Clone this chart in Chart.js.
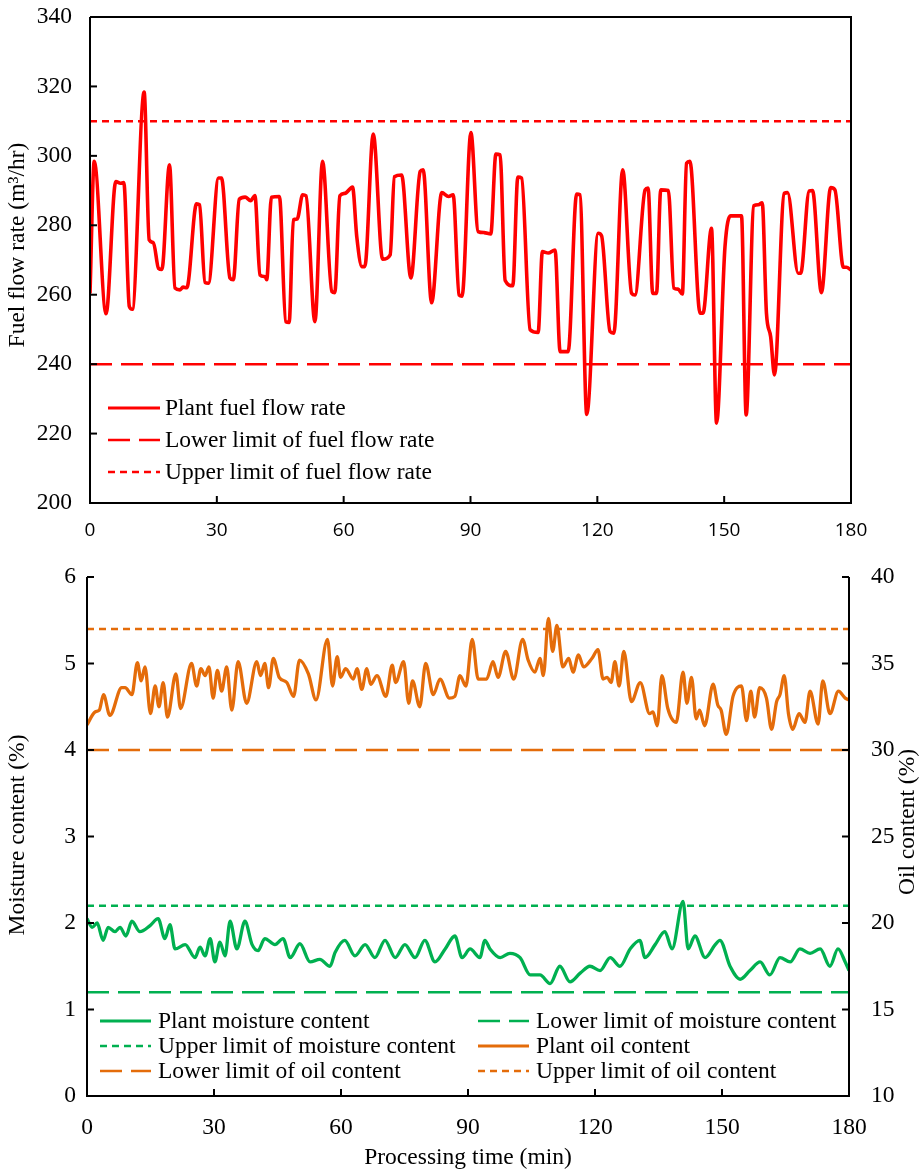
<!DOCTYPE html>
<html lang="en">
<head>
<meta charset="UTF-8" />
<title>Fuel flow rate, moisture and oil content</title>
<script src="https://cdn.jsdelivr.net/npm/chart.js"></script>
<style>
  body { margin: 0; background: #fff; }
  canvas { display: block; }
</style>
</head>
<body>
<canvas id="fuelChart" width="920" height="545"></canvas>
<canvas id="qualityChart" width="920" height="625"></canvas>

<script>
// processing time axis (min)
const timeRange = [0, 180];
const timeTicks = [0, 30, 60, 90, 120, 150, 180];

// plant fuel flow rate (m3/hr)
const fuelTime = [0, 1.0, 3.8, 6.1, 7.2, 8.0, 9.3, 10.0, 12.8, 14.0,
  15.0, 16.2, 17.0, 18.8, 20.1, 21.3, 22.0, 22.9, 25.2, 25.9,
  27.2, 28.0, 30.4, 31.1, 33.1, 33.9, 35.3, 36.7, 38.0, 39.0,
  40.2, 41.4, 41.8, 42.9, 44.8, 46.3, 47.1, 48.1, 49.0, 50.3,
  51.1, 53.2, 55.0, 57.2, 57.9, 59.1, 60.3, 62.1, 63.1, 64.3,
  65.0, 67.0, 69.2, 71.0, 72.0, 73.7, 75.9, 78.1, 78.8, 80.8,
  83.2, 84.8, 85.9, 87.3, 88.0, 90.1, 91.8, 93.2, 94.8, 96.0,
  97.0, 98.2, 100.0, 101.2, 102.1, 104.1, 106.0, 107.0, 108.4, 110.0,
  111.2, 113.1, 115.1, 115.9, 117.5, 120.2, 121.0, 123.0, 123.9, 126.0,
  128.1, 128.9, 131.3, 132.0, 133.1, 134.0, 135.0, 136.8, 138.1, 139.1,
  140.1, 141.1, 141.9, 144.3, 145.0, 147.0, 148.2, 150.2, 151.5, 154.1,
  155.2, 157.0, 158.1, 159.0, 160.0, 161.0, 161.9, 164.2, 165.0, 167.5,
  168.1, 170.1, 170.9, 173.0, 175.2, 176.2, 178.2, 178.9, 180.0];
const fuelRate = [260.4, 298.4, 254.5, 292.6, 292.1, 292.3, 256.6, 255.8, 318.4, 275.8,
  275.0, 267.6, 267.3, 297.4, 261.9, 261.4, 262.2, 262.0, 286.2, 285.9,
  263.5, 263.3, 293.6, 293.6, 264.8, 264.3, 287.5, 288.1, 287.1, 288.6,
  265.7, 265.2, 264.3, 288.1, 288.3, 252.2, 252.0, 281.6, 281.8, 288.8,
  288.5, 252.2, 298.4, 260.9, 260.6, 288.5, 289.2, 291.0, 276.7, 268.1,
  268.1, 306.3, 270.2, 271.5, 294.0, 294.5, 264.8, 295.5, 296.0, 257.7,
  289.4, 288.3, 288.8, 259.9, 259.6, 306.7, 278.2, 277.9, 277.5, 300.5,
  300.3, 264.1, 262.6, 293.9, 293.6, 249.9, 249.1, 272.4, 272.0, 272.9,
  243.6, 243.6, 289.0, 288.8, 225.5, 277.7, 277.0, 249.4, 248.9, 296.0,
  260.4, 259.9, 290.2, 290.7, 260.4, 260.4, 290.2, 290.0, 261.9, 261.6,
  260.2, 297.9, 298.4, 254.7, 254.7, 279.1, 223.0, 273.9, 282.7, 282.7,
  225.4, 285.6, 285.9, 286.5, 254.7, 247.9, 236.9, 289.2, 289.4, 266.2,
  266.2, 289.9, 290.0, 260.6, 290.9, 290.2, 267.9, 267.9, 267.1];
const fuelLimits = [240, 310]; // lower, upper

// plant moisture content (%)
const moistureTime = [0, 1.2, 2.4, 3.8, 5, 6.6, 7.8, 9.2, 10.6, 12.5,
  14.9, 16.8, 18.4, 19.6, 20.8, 23.2, 25.5, 26.7, 27.9, 29.1,
  30.2, 31.4, 32.6, 33.8, 35.4, 37.3, 39, 40.4, 42, 44.4,
  46.3, 48, 50.3, 52.7, 55, 57.4, 58.6, 60.9, 63.3, 65.7,
  68, 70.4, 72.8, 75.1, 77.5, 79.8, 82.2, 84.6, 86.9, 88.6,
  90.5, 92.8, 94, 95.2, 97.6, 99.9, 102.3, 104.7, 107, 109.4,
  111.7, 114.1, 116.5, 118.8, 121.2, 123.6, 125.9, 128.3, 130.6, 131.8,
  134.2, 136.5, 138.2, 140.8, 142, 143.6, 146, 148.4, 149.5, 151.9,
  154.3, 156.6, 159, 161.3, 163.7, 166.1, 168.4, 170.8, 173.2, 175.5,
  177.4, 179.1, 180];
const moisture = [2.05, 1.95, 2.0, 1.8, 1.95, 1.9, 1.95, 1.85, 2.02, 1.9,
  1.97, 2.05, 1.82, 1.98, 1.7, 1.75, 1.6, 1.72, 1.62, 1.82,
  1.55, 1.78, 1.62, 2.02, 1.7, 2.02, 1.75, 1.68, 1.82, 1.75,
  1.82, 1.6, 1.76, 1.55, 1.58, 1.5, 1.66, 1.8, 1.62, 1.75,
  1.6, 1.8, 1.6, 1.75, 1.6, 1.8, 1.55, 1.7, 1.85, 1.6,
  1.7, 1.6, 1.8, 1.7, 1.6, 1.65, 1.6, 1.4, 1.4, 1.3,
  1.5, 1.32, 1.42, 1.5, 1.45, 1.6, 1.5, 1.7, 1.8, 1.6,
  1.75, 1.9, 1.7, 2.25, 1.7, 1.85, 1.6, 1.75, 1.8, 1.5,
  1.35, 1.45, 1.55, 1.4, 1.6, 1.55, 1.7, 1.65, 1.7, 1.5,
  1.7, 1.55, 1.45];
const moistureLimits = [1.2, 2.2];

// plant oil content (%)
const oilTime = [0, 1.9, 2.9, 3.9, 5.4, 8.2, 9.0, 10.6, 11.9, 12.8,
  13.7, 15.0, 16.1, 17.0, 18.0, 19.0, 21.0, 22.1, 24.7, 25.9,
  26.9, 27.9, 28.8, 29.8, 30.8, 31.8, 33.0, 34.2, 35.7, 37.7,
  40.1, 41.0, 42.0, 42.9, 44.0, 45.4, 47.2, 48.8, 50.2, 52.3,
  54.1, 56.8, 58.0, 59.1, 59.9, 61.1, 62.9, 63.8, 64.9, 66.1,
  67.0, 68.5, 70.6, 72.1, 72.9, 74.8, 76.0, 76.9, 78.6, 80.0,
  81.8, 83.4, 85.6, 86.9, 88.1, 89.5, 91.0, 92.4, 94.4, 95.9,
  97.1, 98.9, 100.8, 102.9, 104.2, 105.8, 107.0, 107.8, 109.0, 110.0,
  111.0, 112.4, 113.8, 114.8, 116.1, 117.3, 119.3, 120.7, 121.9, 122.9,
  123.8, 124.7, 125.7, 126.8, 128.6, 130.7, 132.9, 133.7, 134.7, 135.8,
  137.2, 139.2, 140.8, 141.7, 142.8, 143.9, 144.7, 145.9, 147.9, 149.0,
  149.8, 151.0, 152.6, 154.6, 155.8, 156.8, 157.7, 158.9, 160.5, 161.7,
  162.9, 163.7, 164.7, 165.7, 166.7, 168.2, 169.6, 170.8, 172.7, 173.8,
  175.5, 177.5, 179.1, 180];
const oil = [31.45, 32.2, 32.3, 33.2, 32.0, 33.6, 33.6, 33.2, 35.05, 34.0,
  34.8, 32.1, 33.7, 32.5, 33.9, 31.9, 34.4, 32.4, 35.0, 33.7,
  34.7, 34.3, 34.8, 33.0, 34.6, 33.4, 34.8, 32.3, 35.1, 32.7,
  35.1, 34.3, 35.0, 33.6, 35.3, 34.2, 33.9, 33.1, 35.2, 34.4,
  32.9, 36.4, 33.7, 35.4, 34.2, 34.7, 34.1, 34.7, 33.5, 34.7,
  33.8, 34.3, 33.1, 34.9, 33.9, 35.1, 32.7, 34.0, 32.5, 35.0,
  33.2, 34.1, 33.0, 33.1, 34.3, 33.7, 36.4, 34.1, 34.1, 35.1,
  34.2, 35.7, 34.1, 36.4, 35.2, 34.5, 35.3, 34.3, 37.6, 35.7,
  37.2, 34.8, 35.3, 34.5, 35.5, 34.8, 35.3, 35.8, 34.1, 34.2,
  33.9, 35.1, 33.7, 35.7, 32.8, 33.9, 32.1, 32.2, 31.4, 34.3,
  32.4, 31.6, 34.5, 32.7, 34.2, 31.8, 32.3, 31.4, 33.8, 32.6,
  32.3, 30.9, 33.1, 33.7, 31.7, 33.4, 31.9, 33.6, 33.0, 31.2,
  32.8, 33.2, 34.3, 32.1, 31.2, 32.1, 31.6, 33.4, 31.5, 34.0,
  32.1, 33.4, 33.0, 32.9];
const oilLimits = [30, 37];

const RED = '#ff0000';
const GREEN = '#00b050';
const ORANGE = '#e46c0a';
const SERIF = '"Liberation Serif", "Times New Roman", serif';
const LONG_DASH = [22, 9];
const SHORT_DASH = [7, 5];

// helpers to turn the arrays into {x, y} points
const points = (xs, ys) => xs.map((x, i) => ({ x: x, y: ys[i] }));
const flat = (v) => timeRange.map((x) => ({ x: x, y: v }));

// fixed axis box sizes, no extra room for overhanging tick labels
const fixSize = (w, h) => (s) => {
  if (w !== null) s.width = w;
  if (h !== null) s.height = h;
  s.paddingTop = 0;
  s.paddingBottom = 0;
  s.paddingLeft = 0;
  s.paddingRight = 0;
};

// axis lines + inward tick marks (and the plot box for the upper panel)
const axisFrame = {
  id: 'axisFrame',
  afterDraw(chart, args, opts) {
    const { ctx, chartArea: a } = chart;
    ctx.save();
    ctx.strokeStyle = '#000';
    ctx.lineWidth = 2;
    ctx.beginPath();
    ctx.moveTo(a.left, a.top);
    ctx.lineTo(a.left, a.bottom);
    ctx.lineTo(a.right, a.bottom);
    if (opts.box || chart.scales.y1) {
      ctx.lineTo(a.right, a.top);
    }
    if (opts.box) {
      ctx.lineTo(a.left, a.top);
    }
    ctx.stroke();

    const len = opts.tickLength;
    Object.values(chart.scales).forEach((s) => {
      s.ticks.forEach((t) => {
        const p = s.getPixelForValue(t.value);
        ctx.beginPath();
        if (s.axis === 'x') {
          ctx.moveTo(p, a.bottom);
          ctx.lineTo(p, a.bottom - len);
        } else if (s.position === 'right') {
          ctx.moveTo(a.right, p);
          ctx.lineTo(a.right - len, p);
        } else {
          ctx.moveTo(a.left, p);
          ctx.lineTo(a.left + len, p);
        }
        ctx.stroke();
      });
    });
    ctx.restore();
  }
};

// legend drawn inside the plot area
const boxLegend = {
  id: 'boxLegend',
  afterDraw(chart, args, opts) {
    const ctx = chart.ctx;
    ctx.save();
    ctx.font = opts.font;
    ctx.textBaseline = 'middle';
    ctx.fillStyle = '#000';
    chart.data.datasets.forEach((ds, i) => {
      const col = i % opts.cols;
      const row = Math.floor(i / opts.cols);
      const x = opts.left[col];
      const y = opts.top + row * opts.rowGap;
      ctx.strokeStyle = ds.borderColor;
      ctx.lineWidth = Math.min(ds.borderWidth, 3);
      ctx.setLineDash(ds.borderDash || []);
      ctx.beginPath();
      ctx.moveTo(x, y);
      ctx.lineTo(x + opts.sample, y);
      ctx.stroke();
      ctx.setLineDash([]);
      ctx.fillText(ds.label, x + opts.sample + opts.gap, y + 1);
    });
    ctx.restore();
  }
};

// axis titles (both vertical titles read bottom to top)
const axisTitles = {
  id: 'axisTitles',
  afterDraw(chart, args, opts) {
    const ctx = chart.ctx;
    ctx.save();
    ctx.font = opts.font;
    ctx.fillStyle = '#000';
    ctx.textAlign = 'center';
    ctx.textBaseline = 'middle';
    opts.items.forEach((it) => {
      ctx.save();
      ctx.translate(it.x, it.y);
      ctx.rotate(it.angle || 0);
      ctx.fillText(it.text, 0, 0);
      ctx.restore();
    });
    ctx.restore();
  }
};

const lineStyle = (label, color, data, dash, axis, width) => ({
  label: label,
  data: data,
  borderColor: color,
  backgroundColor: color,
  borderWidth: dash ? 2.5 : (width || 3.3),
  borderDash: dash || [],
  pointRadius: 0,
  fill: false,
  cubicInterpolationMode: 'monotone',
  yAxisID: axis || 'y'
});

const serifTicks = { family: SERIF, size: 23.5 };

// ---------- upper panel: fuel flow rate ----------
new Chart(document.getElementById('fuelChart'), {
  type: 'line',
  data: {
    datasets: [
      lineStyle('Plant fuel flow rate', RED, points(fuelTime, fuelRate), null, 'y', 3.6),
      lineStyle('Lower limit of fuel flow rate', RED, flat(fuelLimits[0]), LONG_DASH),
      lineStyle('Upper limit of fuel flow rate', RED, flat(fuelLimits[1]), SHORT_DASH)
    ]
  },
  options: {
    responsive: false,
    animation: false,
    devicePixelRatio: 1,
    layout: { padding: { top: 17, right: 69, left: 0, bottom: 0 } },
    scales: {
      x: {
        type: 'linear',
        min: timeRange[0],
        max: timeRange[1],
        afterBuildTicks: (s) => { s.ticks = timeTicks.map((v) => ({ value: v })); },
        ticks: { font: { family: '"Open Sans", sans-serif', size: 19 }, color: '#000', padding: 16 },
        grid: { display: false, drawTicks: false },
        border: { display: false },
        afterFit: fixSize(null, 42)
      },
      y: {
        min: 200,
        max: 340,
        ticks: { stepSize: 20, font: serifTicks, color: '#000', padding: 18 },
        grid: { display: false, drawTicks: false },
        border: { display: false },
        afterFit: fixSize(90, null)
      }
    },
    plugins: {
      legend: { display: false },
      tooltip: { enabled: false },
      axisFrame: { box: true, tickLength: 7 },
      boxLegend: { font: '23.5px ' + SERIF, cols: 1, left: [108], top: 408, rowGap: 32, sample: 52, gap: 5 },
      axisTitles: {
        font: '23.5px ' + SERIF,
        items: [{ text: 'Fuel flow rate (m³/hr)', x: 18, y: 245, angle: -Math.PI / 2 }]
      }
    }
  },
  plugins: [axisFrame, boxLegend, axisTitles]
});

// ---------- lower panel: moisture and oil content ----------
new Chart(document.getElementById('qualityChart'), {
  type: 'line',
  data: {
    datasets: [
      lineStyle('Plant moisture content', GREEN, points(moistureTime, moisture)),
      lineStyle('Lower limit of moisture content', GREEN, flat(moistureLimits[0]), LONG_DASH),
      lineStyle('Upper limit of moisture content', GREEN, flat(moistureLimits[1]), SHORT_DASH),
      lineStyle('Plant oil content', ORANGE, points(oilTime, oil), null, 'y1'),
      lineStyle('Lower limit of oil content', ORANGE, flat(oilLimits[0]), LONG_DASH, 'y1'),
      lineStyle('Upper limit of oil content', ORANGE, flat(oilLimits[1]), SHORT_DASH, 'y1')
    ]
  },
  options: {
    responsive: false,
    animation: false,
    devicePixelRatio: 1,
    layout: { padding: { top: 32, right: 0, left: 0, bottom: 0 } },
    scales: {
      x: {
        type: 'linear',
        min: timeRange[0],
        max: timeRange[1],
        afterBuildTicks: (s) => { s.ticks = timeTicks.map((v) => ({ value: v })); },
        ticks: { font: serifTicks, color: '#000', padding: 18 },
        grid: { display: false, drawTicks: false },
        border: { display: false },
        afterFit: fixSize(null, 74)
      },
      y: {
        position: 'left',
        min: 0,
        max: 6,
        ticks: { stepSize: 1, font: serifTicks, color: '#000', padding: 11 },
        grid: { display: false, drawTicks: false },
        border: { display: false },
        afterFit: fixSize(87, null)
      },
      y1: {
        position: 'right',
        min: 10,
        max: 40,
        ticks: { stepSize: 5, font: serifTicks, color: '#000', padding: 22 },
        grid: { display: false, drawTicks: false },
        border: { display: false },
        afterFit: fixSize(71, null)
      }
    },
    plugins: {
      legend: { display: false },
      tooltip: { enabled: false },
      axisFrame: { box: false, tickLength: 7 },
      boxLegend: { font: '23.5px ' + SERIF, cols: 2, left: [100, 478], top: 476, rowGap: 25, sample: 51, gap: 7 },
      axisTitles: {
        font: '23.5px ' + SERIF,
        items: [
          { text: 'Moisture content (%)', x: 18, y: 290, angle: -Math.PI / 2 },
          { text: 'Oil content (%)', x: 908, y: 277, angle: -Math.PI / 2 },
          { text: 'Processing time (min)', x: 468, y: 613, angle: 0 }
        ]
      }
    }
  },
  plugins: [axisFrame, boxLegend, axisTitles]
});
</script>
</body>
</html>
